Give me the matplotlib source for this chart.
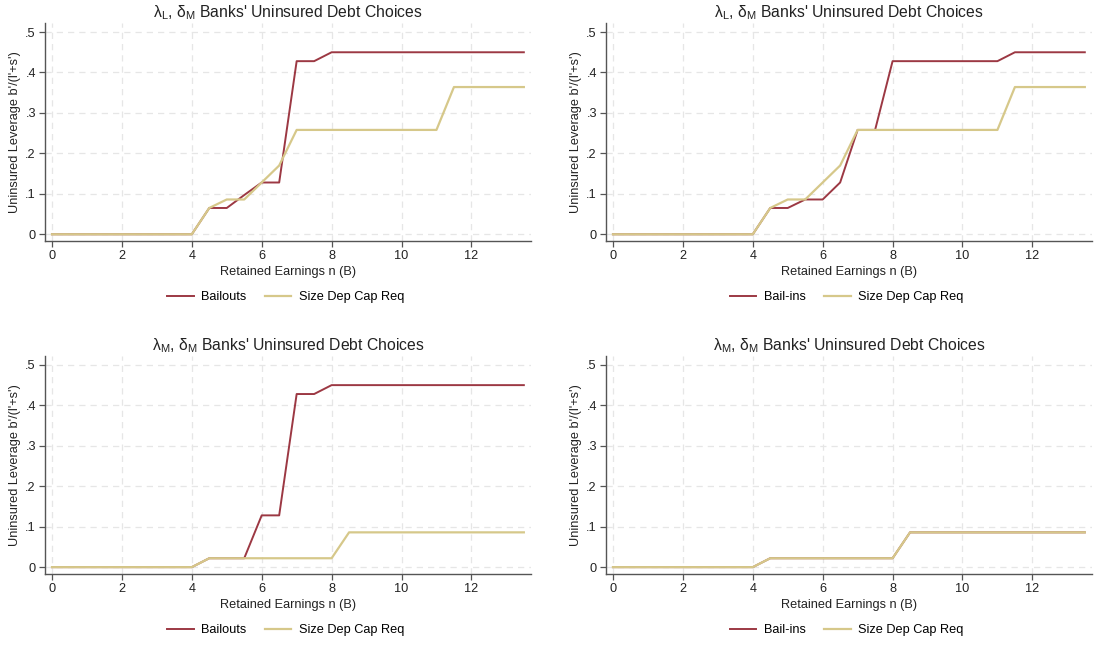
import matplotlib.pyplot as plt

plt.rcParams['font.family'] = ['Liberation Sans', 'DejaVu Sans']
plt.rcParams['mathtext.fontset'] = 'custom'
plt.rcParams['mathtext.rm'] = 'Liberation Sans'

# retained earnings grid (B)
earn = [0, 0.5, 1, 1.5, 2, 2.5, 3, 3.5, 4, 4.5, 5, 5.5, 6, 6.5,
        7, 7.5, 8, 8.5, 9, 9.5, 10, 10.5, 11, 11.5, 12, 12.5, 13, 13.5]

# lambda_L, delta_M
bailout_L = [0, 0, 0, 0, 0, 0, 0, 0, 0, .065, .065, .097, .128, .128,
             .428, .428, .45, .45, .45, .45, .45, .45, .45, .45, .45, .45, .45, .45]
bailin_L = [0, 0, 0, 0, 0, 0, 0, 0, 0, .065, .065, .086, .086, .128,
            .258, .258, .428, .428, .428, .428, .428, .428, .428, .45, .45, .45, .45, .45]
sizedep_L = [0, 0, 0, 0, 0, 0, 0, 0, 0, .065, .086, .086, .128, .17,
             .258, .258, .258, .258, .258, .258, .258, .258, .258, .364, .364, .364, .364, .364]

# lambda_M, delta_M
bailout_M = [0, 0, 0, 0, 0, 0, 0, 0, 0, .022, .022, .022, .128, .128,
             .428, .428, .45, .45, .45, .45, .45, .45, .45, .45, .45, .45, .45, .45]
bailin_M = [0, 0, 0, 0, 0, 0, 0, 0, 0, .022, .022, .022, .022, .022,
            .022, .022, .022, .086, .086, .086, .086, .086, .086, .086, .086, .086, .086, .086]
sizedep_M = [0, 0, 0, 0, 0, 0, 0, 0, 0, .022, .022, .022, .022, .022,
             .022, .022, .022, .086, .086, .086, .086, .086, .086, .086, .086, .086, .086, .086]

xticks = [0, 2, 4, 6, 8, 10, 12]
yticks = [0, .1, .2, .3, .4, .5]
ylabels = ['0', '.1', '.2', '.3', '.4', '.5']

red = '#9c3843'
sand = '#d6c88a'

title_L = "λ$_\\mathregular{L}$, δ$_\\mathregular{M}$ Banks' Uninsured Debt Choices"
title_M = "λ$_\\mathregular{M}$, δ$_\\mathregular{M}$ Banks' Uninsured Debt Choices"

panels = [
    ([0.0411, 0.629, 0.444, 0.3354], title_L, bailout_L, 'Bailouts', sizedep_L),
    ([0.5534, 0.629, 0.444, 0.3354], title_L, bailin_L, 'Bail-ins', sizedep_L),
    ([0.0411, 0.1169, 0.444, 0.3354], title_M, bailout_M, 'Bailouts', sizedep_M),
    ([0.5534, 0.1169, 0.444, 0.3354], title_M, bailin_M, 'Bail-ins', sizedep_M),
]

fig = plt.figure(figsize=(10.95, 6.5), dpi=100)

for pos, title, y1, lab1, y2 in panels:
    ax = fig.add_axes(pos)
    ax.plot(earn, y1, color=red, lw=1.4, label=lab1)
    ax.plot(earn, y2, color=sand, lw=1.6, label='Size Dep Cap Req')
    ax.set_xlim(-0.2, 13.71)
    ax.set_ylim(-0.017, 0.522)
    ax.set_xticks(xticks)
    ax.set_yticks(yticks)
    ax.set_yticklabels(ylabels)
    ax.grid(True, color='#e6e6e6', ls=(0, (5, 4)), lw=0.9)
    ax.set_axisbelow(True)
    for s in ['top', 'right']:
        ax.spines[s].set_visible(False)
    for s in ['left', 'bottom']:
        ax.spines[s].set_color('#555555')
        ax.spines[s].set_linewidth(1.0)
    ax.tick_params(direction='out', length=4, width=0.9, color='#555555',
                   labelsize=9.2, labelcolor='#222222', pad=2.5)
    ax.set_title(title, fontsize=11.3, color='#222222', pad=4)
    ax.set_xlabel('Retained Earnings n (B)', fontsize=9.2, color='#222222', labelpad=2.5)
    ax.set_ylabel("Uninsured Leverage b'/(l'+s')", fontsize=9.2, color='#222222', labelpad=3)
    ax.legend(loc='center', bbox_to_anchor=(0.495, -0.258), ncol=2, frameon=False,
              fontsize=9.2, handlelength=2.1, columnspacing=1.4, handletextpad=0.6)

plt.savefig('out.png', dpi=100)
